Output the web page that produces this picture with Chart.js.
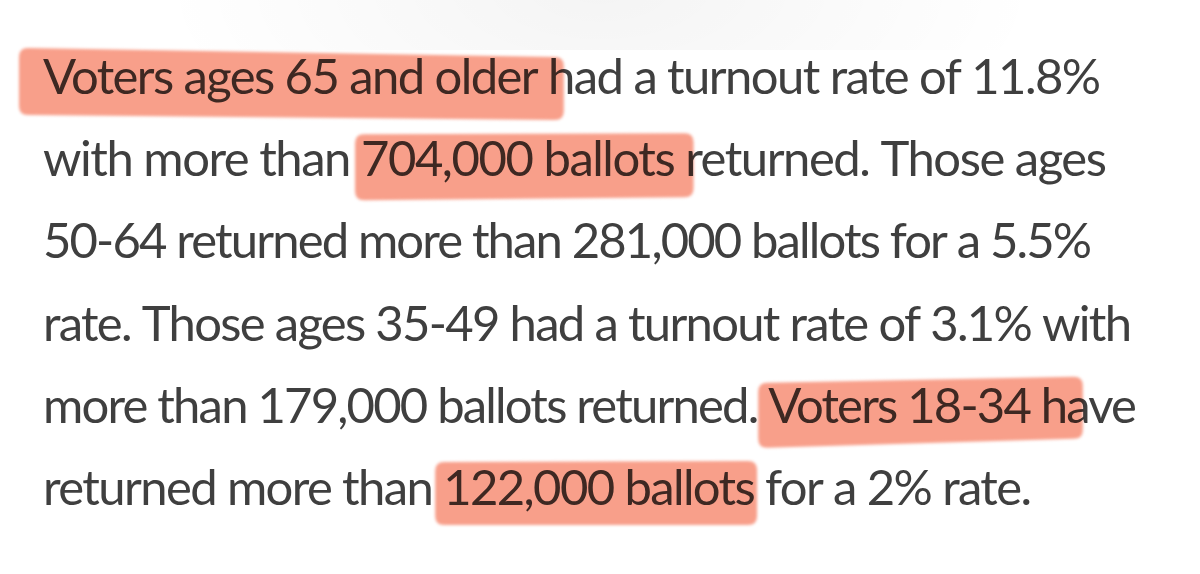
<!DOCTYPE html>
<html>
<head>
<meta charset="utf-8">
<script src="https://cdn.jsdelivr.net/npm/chart.js@4"></script>
<style>
  html, body { margin:0; padding:0; background:#ffffff; }
  #wrap { position:relative; width:1200px; height:574px; }
</style>
</head>
<body>
<div id="wrap"><canvas id="c"></canvas></div>
<script>
// ---- data ----
const ageGroups = ['65 and older', '50-64', '35-49', '18-34'];
const turnoutRates = [11.8, 5.5, 3.1, 2];
const ballotsReturned = [704000, 281000, 179000, 122000];

const fmt = n => n.toLocaleString('en-US');
const pct = v => v + '%';

// paragraph text, wrapped as in the picture
const lines = [
  'Voters ages ' + ageGroups[0] + ' had a turnout rate of ' + pct(turnoutRates[0]),
  'with more than ' + fmt(ballotsReturned[0]) + ' ballots returned. Those ages',
  ageGroups[1] + ' returned more than ' + fmt(ballotsReturned[1]) + ' ballots for a ' + pct(turnoutRates[1]),
  'rate. Those ages ' + ageGroups[2] + ' had a turnout rate of ' + pct(turnoutRates[2]) + ' with',
  'more than ' + fmt(ballotsReturned[2]) + ' ballots returned. Voters ' + ageGroups[3] + ' have',
  'returned more than ' + fmt(ballotsReturned[3]) + ' ballots for a ' + pct(turnoutRates[3]) + ' rate.'
];

// highlighted phrases and the line each sits on
const highlightLines = [0, 1, 4, 5];
const highlightPhrases = [
  'Voters ages ' + ageGroups[0] + ' h',
  fmt(ballotsReturned[0]) + ' ballots r',
  'Voters ' + ageGroups[3] + ' ha',
  fmt(ballotsReturned[3]) + ' ballots '
];

// ---- styling / layout ----
const TEXT_X = 43, BASE0 = 94, LINE_H = 82.2;
const FONT = '400 49px Lato';
const LINE_END = [1101, 1107, 1092, 1132, 1137, 1032]; // right edge of each line in the picture
const TEXT_COLOR = '#3f3f3f';
const HL_COLOR = '#f89f8a';
// per highlight: padL, padR, top-left, top-right, bottom-left, bottom-right (relative to baseline)
const hlShape = [
  [24, -10, -46, -37, 21, 26],
  [6, -8, -42, -43, 24, 21],
  [10, -6, -40, -46, 25, 16],
  [8, -8, -43, -44, 20, 20]
];

function roundedQuad(ctx, x0, x1, tl, tr, bl, br, r) {
  ctx.beginPath();
  ctx.moveTo(x0 + r, tl);
  ctx.lineTo(x1 - r, tr);
  ctx.quadraticCurveTo(x1, tr, x1, tr + r);
  ctx.lineTo(x1, br - r);
  ctx.quadraticCurveTo(x1, br, x1 - r, br);
  ctx.lineTo(x0 + r, bl);
  ctx.quadraticCurveTo(x0, bl, x0, bl - r);
  ctx.lineTo(x0, tl + r);
  ctx.quadraticCurveTo(x0, tl, x0 + r, tl);
  ctx.closePath();
}

const paragraphPlugin = {
  id: 'paragraph',
  beforeDraw(chart) {
    const ctx = chart.ctx;
    ctx.save();
    ctx.fillStyle = '#ffffff';
    ctx.fillRect(0, 0, chart.width, chart.height);
    // very faint shadow at the top
    ctx.translate(600, -10);
    ctx.scale(2.2, 1);
    const g = ctx.createRadialGradient(0, 0, 5, 0, 0, 200);
    g.addColorStop(0, 'rgba(0,0,0,0.045)');
    g.addColorStop(1, 'rgba(0,0,0,0)');
    ctx.fillStyle = g;
    ctx.fillRect(-300, 0, 600, 60);
    ctx.restore();
  },
  afterDraw(chart) {
    const ctx = chart.ctx;
    ctx.save();
    ctx.font = FONT;
    ctx.textBaseline = 'alphabetic';
    ctx.textAlign = 'left';
    const spacing = [];
    lines.forEach((t, i) => {
      ctx.letterSpacing = '0px';
      const w = ctx.measureText(t).width;
      spacing[i] = (LINE_END[i] - TEXT_X - w) / (t.length - 1);
    });
    const widthOf = (s, i) => { ctx.letterSpacing = spacing[i].toFixed(3) + 'px'; return ctx.measureText(s).width; };
    ctx.fillStyle = TEXT_COLOR;
    lines.forEach((t, i) => {
      ctx.letterSpacing = spacing[i].toFixed(3) + 'px';
      ctx.fillText(t, TEXT_X, BASE0 + i * LINE_H);
    });

    // highlighter strokes on top, multiplied
    ctx.globalCompositeOperation = 'multiply';
    ctx.filter = 'blur(1.6px)';
    ctx.fillStyle = HL_COLOR;
    highlightPhrases.forEach((p, k) => {
      const li = highlightLines[k];
      const t = lines[li];
      const idx = t.indexOf(p);
      const xs = TEXT_X + (idx > 0 ? widthOf(t.slice(0, idx), li) : 0);
      const xe = TEXT_X + widthOf(t.slice(0, idx + p.length), li);
      const s = hlShape[k];
      const b = BASE0 + li * LINE_H;
      roundedQuad(ctx, xs - s[0], xe + s[1], b + s[2], b + s[3], b + s[4], b + s[5], 9);
      ctx.fill();
    });
    ctx.restore();
  }
};

new Chart(document.getElementById('c'), {
  type: 'bar',
  data: {
    labels: ageGroups,
    datasets: [{ label: 'Turnout rate (%)', data: turnoutRates, hidden: true }]
  },
  options: {
    responsive: true,
    maintainAspectRatio: false,
    animation: false,
    events: [],
    layout: { padding: 0 },
    plugins: { legend: { display: false }, tooltip: { enabled: false } },
    scales: { x: { display: false }, y: { display: false } }
  },
  plugins: [paragraphPlugin]
});
</script>
</body>
</html>
